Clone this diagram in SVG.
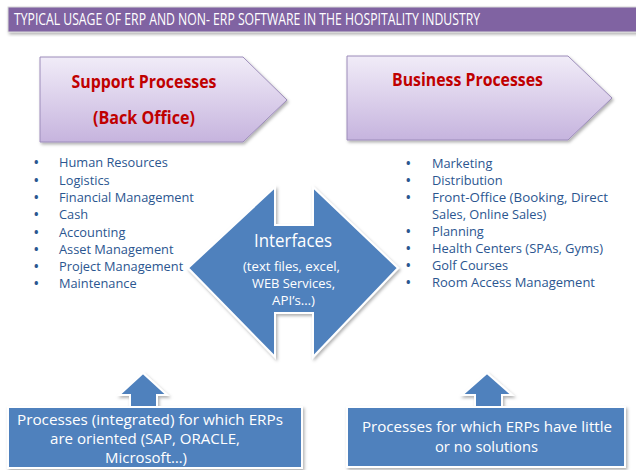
<svg xmlns="http://www.w3.org/2000/svg" width="636" height="470" viewBox="0 0 636 470">
<defs>
<linearGradient id="pg" x1="0" y1="0" x2="0" y2="1">
<stop offset="0" stop-color="#F1ECF8"/>
<stop offset="1" stop-color="#C6B4DE"/>
</linearGradient>
<filter id="sh" x="-10%" y="-10%" width="130%" height="130%">
<feDropShadow dx="1.5" dy="2" stdDeviation="1.5" flood-color="#000" flood-opacity="0.3"/>
</filter>
<style>
text{font-family:"Open Sans","Noto Sans","Liberation Sans",sans-serif}
.pent{fill:url(#pg);stroke:#9C8CBA;stroke-width:1}
.hd{fill:#C00000;font-weight:bold;font-size:17px;text-anchor:middle}
.li{fill:#2B5690;font-size:12.8px}
.bu{fill:#2B5690;font-size:12px;font-weight:bold}
.blue{fill:#4F81BD;stroke:#FFFFFF;stroke-width:2}
.wt{fill:#FFFFFF;text-anchor:middle}
</style>
</defs>

<g id="title">
<rect x="8" y="7" width="632" height="25" fill="#8064A2" stroke="#D8D8D8" stroke-width="1" filter="url(#sh)"/>
<text x="14" y="25" fill="#FFFFFF" font-size="16" textLength="466" lengthAdjust="spacingAndGlyphs">TYPICAL USAGE OF ERP AND NON- ERP SOFTWARE IN THE HOSPITALITY INDUSTRY</text>
</g>

<g id="support">
<path class="pent" d="M40,57 L243,57 L287,100 L243,142 L40,142 Z" filter="url(#sh)"/>
<text class="hd" x="144" y="88" textLength="145" lengthAdjust="spacingAndGlyphs">Support Processes</text>
<text class="hd" x="144" y="124" textLength="102" lengthAdjust="spacingAndGlyphs">(Back Office)</text>
</g>

<g id="business">
<path class="pent" d="M347,56 L568,56 L612,98 L568,140 L347,140 Z" filter="url(#sh)"/>
<text class="hd" x="467.5" y="86" textLength="151" lengthAdjust="spacingAndGlyphs">Business Processes</text>
</g>

<g id="support-list">
<text class="bu" x="34" y="167">•</text><text class="li" x="59" y="167">Human Resources</text>
<text class="bu" x="34" y="184.5">•</text><text class="li" x="59" y="184.5">Logistics</text>
<text class="bu" x="34" y="202">•</text><text class="li" x="59" y="202">Financial Management</text>
<text class="bu" x="34" y="219">•</text><text class="li" x="59" y="219">Cash</text>
<text class="bu" x="34" y="236.5">•</text><text class="li" x="59" y="236.5">Accounting</text>
<text class="bu" x="34" y="254">•</text><text class="li" x="59" y="254">Asset Management</text>
<text class="bu" x="34" y="271">•</text><text class="li" x="59" y="271">Project Management</text>
<text class="bu" x="34" y="288">•</text><text class="li" x="59" y="288">Maintenance</text>
</g>

<g id="business-list">
<text class="bu" x="406" y="168">•</text><text class="li" x="432" y="168">Marketing</text>
<text class="bu" x="406" y="185">•</text><text class="li" x="432" y="185">Distribution</text>
<text class="bu" x="406" y="202">•</text><text class="li" x="432" y="202" textLength="176" lengthAdjust="spacingAndGlyphs">Front-Office (Booking,  Direct</text>
<text class="li" x="432" y="219">Sales,  Online Sales)</text>
<text class="bu" x="406" y="236">•</text><text class="li" x="432" y="236">Planning</text>
<text class="bu" x="406" y="253">•</text><text class="li" x="432" y="253" textLength="171" lengthAdjust="spacingAndGlyphs">Health Centers (SPAs, Gyms)</text>
<text class="bu" x="406" y="270">•</text><text class="li" x="432" y="270">Golf Courses</text>
<text class="bu" x="406" y="287">•</text><text class="li" x="432" y="287" textLength="163" lengthAdjust="spacingAndGlyphs">Room Access Management</text>
</g>

<g id="interfaces">
<path class="blue" d="M188,268 L275,187 L275,225 L313,225 L313,187 L398,268 L313,357 L313,313 L275,313 L275,357 Z" filter="url(#sh)"/>
<text class="wt" x="293" y="247" font-size="18" textLength="78" lengthAdjust="spacingAndGlyphs">Interfaces</text>
<text class="wt" x="291.5" y="271" font-size="13" textLength="97" lengthAdjust="spacingAndGlyphs">(text files, excel,</text>
<text class="wt" x="293.5" y="288" font-size="13" textLength="83" lengthAdjust="spacingAndGlyphs">WEB Services,</text>
<text class="wt" x="293.5" y="305" font-size="13" textLength="43" lengthAdjust="spacingAndGlyphs">API’s…)</text>
</g>

<g id="connectors">
<path class="blue" d="M143,373 L167,395 L157,395 L157,408 L130,408 L130,395 L119,395 Z" filter="url(#sh)"/>
<path class="blue" d="M487,373 L512,395 L502,395 L502,408 L475,408 L475,395 L462,395 Z" filter="url(#sh)"/>
</g>

<g id="erp-box">
<rect class="blue" x="8" y="407" width="294" height="61" filter="url(#sh)"/>
<text class="wt" x="150" y="425" font-size="14.5" textLength="266" lengthAdjust="spacingAndGlyphs">Processes (integrated) for which ERPs</text>
<text class="wt" x="145" y="444" font-size="14.5" textLength="190" lengthAdjust="spacingAndGlyphs">are oriented (SAP, ORACLE,</text>
<text class="wt" x="146" y="463" font-size="14.5" textLength="82" lengthAdjust="spacingAndGlyphs">Microsoft…)</text>
</g>

<g id="non-erp-box">
<rect class="blue" x="347" y="407" width="278" height="60" filter="url(#sh)"/>
<text class="wt" x="487" y="432" font-size="14.5" textLength="250" lengthAdjust="spacingAndGlyphs">Processes for which  ERPs have little</text>
<text class="wt" x="486.5" y="452" font-size="14.5" textLength="103" lengthAdjust="spacingAndGlyphs">or no solutions</text>
</g>
</svg>
